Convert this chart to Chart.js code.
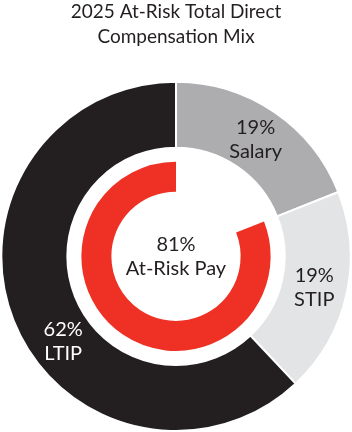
<!DOCTYPE html>
<html>
<head>
<meta charset="utf-8">
<script src="https://cdn.jsdelivr.net/npm/chart.js@4.4.1/dist/chart.umd.min.js"></script>
<style>
    html, body { margin: 0; padding: 0; background: #fff; }
    #wrap { width: 352px; height: 432px; }
</style>
</head>
<body>
<div id="wrap"><canvas id="mixChart" width="352" height="432"></canvas></div>
<script>
const titleLines = ['2025 At-Risk Total Direct', 'Compensation Mix'];
const categories = ['Salary', 'STIP', 'LTIP'];
const mixValues = [19, 19, 62];
const mixColors = ['#adadb0', '#e3e4e5', '#231f20'];
const labelColors = ['#231f20', '#231f20', '#ffffff'];
const labelFrac = [0.5, 0.5, 0.43];
const atRiskValues = [19, 81];
const atRiskLabel = 'At-Risk Pay';

const FONT = 'Lato, "Open Sans", sans-serif';

const labelPlugin = {
    id: 'ringLabels',
    afterDatasetsDraw(chart) {
        const ctx = chart.ctx;
        const arcs = chart.getDatasetMeta(0).data;
        ctx.save();
        ctx.textAlign = 'center';
        ctx.textBaseline = 'middle';
        ctx.font = `20px ${FONT}`;

        arcs.forEach((arc, i) => {
            const { x, y, startAngle, endAngle, innerRadius, outerRadius } = arc.getProps(
                ['x', 'y', 'startAngle', 'endAngle', 'innerRadius', 'outerRadius'], true);
            const angle = startAngle + labelFrac[i] * (endAngle - startAngle);
            const r = (innerRadius + outerRadius) / 2;
            const cx = x + Math.cos(angle) * r;
            const cy = y + Math.sin(angle) * r;
            ctx.fillStyle = labelColors[i];
            ctx.fillText(`${mixValues[i]}%`, cx, cy - 12);
            ctx.fillText(categories[i], cx, cy + 12);
        });

        // centre label
        const c = arcs[0];
        ctx.fillStyle = '#231f20';
        ctx.fillText(`${atRiskValues[1]}%`, c.x, c.y - 12);
        ctx.fillText(atRiskLabel, c.x, c.y + 12);
        ctx.restore();
    }
};

new Chart(document.getElementById('mixChart'), {
    type: 'doughnut',
    data: {
        labels: categories,
        datasets: [
            { data: mixValues, backgroundColor: mixColors, borderColor: '#ffffff', borderWidth: 2, weight: 66 },
            { data: [1], backgroundColor: 'rgba(0,0,0,0)', borderWidth: 0, weight: 14 },
            { data: atRiskValues, backgroundColor: ['#ffffff', '#ee3124'], borderWidth: 0, weight: 30 }
        ]
    },
    options: {
        responsive: false,
        animation: false,
        events: [],
        cutout: '37%',
        layout: { padding: 0 },
        plugins: {
            legend: { display: false },
            tooltip: { enabled: false },
            title: {
                display: true,
                text: titleLines,
                color: '#231f20',
                font: { family: FONT, size: 19, weight: 'normal', lineHeight: 1.28 },
                padding: { top: 0, bottom: 32 }
            }
        }
    },
    plugins: [labelPlugin]
});
</script>
</body>
</html>
